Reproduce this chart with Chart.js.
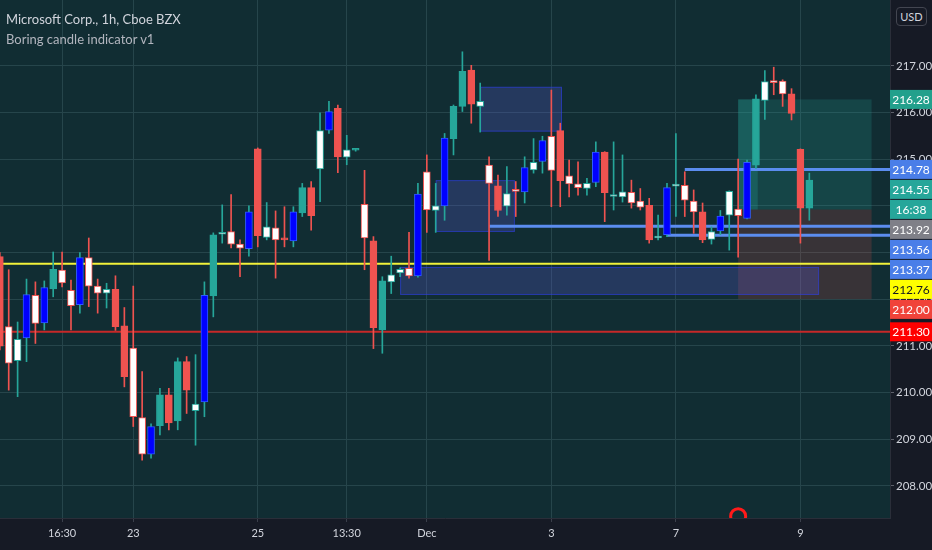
<!DOCTYPE html>
<html>
<head>
<meta charset="utf-8">
<script src="https://cdn.jsdelivr.net/npm/chart.js@4.4.0/dist/chart.umd.min.js"></script>
<style>
    html, body { margin: 0; padding: 0; background: #161a25; }
    #wrap { position: relative; width: 932px; height: 550px; overflow: hidden; }
    #legend { position: absolute; left: 6px; top: 9px; font-family: "Liberation Sans Narrow", Lato, sans-serif; pointer-events: none; }
    #legend .l1 { color: #d1d4dc; font-size: 13px; line-height: 20px; }
    #legend .l2 { color: #b2b5be; font-size: 13px; line-height: 20px; }
    #usd { position: absolute; left: 896px; top: 7px; width: 31px; height: 19px; box-sizing: border-box;
           border: 1px solid #434651; border-radius: 4px; color: #d1d4dc; background: #161a25;
           font: 11px Lato, sans-serif; line-height: 17px; text-align: center; }
</style>
</head>
<body>
<div id="wrap">
    <canvas id="chart" width="932" height="550"></canvas>
    <div id="legend">
        <div class="l1">Microsoft Corp., 1h, Cboe BZX</div>
        <div class="l2">Boring candle indicator v1</div>
    </div>
    <div id="usd">USD</div>
</div>
<script>
// hourly candles (index = bar number from the left edge)
const opens = [
    212.91, 211.41, 210.68, 211.17, 212.08, 211.49, 212.22, 212.62, 212.19, 211.88,
    212.89, 212.28, 212.13, 212.21, 211.43, 210.95, 209.46, 208.68, 209.29, 209.95,
    209.39, 210.66, 209.61, 209.80, 212.07, 213.39, 213.45, 213.18, 213.08, 215.22,
    213.32, 213.53, 213.30, 213.25, 213.85, 214.39, 214.79, 215.62, 216.09, 215.04,
    215.19, 214.03, 213.25, 211.34, 212.37, 212.56, 212.66, 212.50, 214.73, 213.90,
    214.00, 215.44, 216.13, 216.91, 216.13, 214.87, 214.43, 213.99, 214.32, 214.30,
    214.77, 214.95, 215.49, 215.61, 214.64, 214.47, 214.37, 214.50, 215.15, 214.20,
    214.19, 214.29, 214.10, 214.01, 213.31, 213.38, 214.42, 214.44, 214.10, 213.87,
    213.28, 213.46, 213.80, 213.93, 213.73, 214.87, 216.26, 216.68, 216.67, 216.40,
    215.21, 213.95
];
const highs = [
    213.00, 212.63, 211.51, 212.43, 212.37, 212.39, 213.01, 213.01, 212.41, 213.00,
    213.31, 212.43, 212.34, 212.50, 211.82, 212.28, 210.45, 209.33, 210.09, 210.09,
    210.74, 210.77, 210.81, 212.37, 213.42, 214.02, 214.24, 213.27, 214.00, 215.24,
    214.07, 213.89, 213.98, 213.98, 214.48, 214.52, 215.99, 216.24, 216.16, 215.51,
    215.22, 214.76, 213.34, 212.48, 212.92, 212.67, 213.43, 214.48, 215.09, 214.48,
    215.55, 216.16, 217.30, 217.01, 216.63, 215.05, 214.66, 214.84, 214.52, 215.05,
    215.44, 215.49, 216.48, 215.77, 214.98, 214.94, 214.59, 215.37, 215.16, 215.37,
    215.09, 214.55, 214.37, 214.16, 213.80, 214.48, 215.55, 214.73, 214.34, 214.06,
    213.55, 213.90, 214.32, 215.00, 214.98, 216.38, 216.90, 216.97, 216.70, 216.51,
    215.22, 214.70
];
const lows = [
    210.91, 210.05, 209.91, 210.66, 211.05, 211.34, 212.05, 212.26, 211.34, 211.70,
    211.84, 211.70, 211.81, 211.33, 210.12, 209.27, 208.55, 208.59, 209.09, 209.20,
    209.20, 209.55, 208.87, 209.48, 211.62, 213.20, 213.10, 212.48, 212.92, 213.12,
    213.27, 212.45, 213.12, 213.12, 213.77, 213.48, 214.09, 215.55, 214.71, 214.88,
    215.17, 212.63, 210.94, 210.84, 212.12, 212.48, 212.45, 212.47, 213.43, 213.43,
    213.69, 215.09, 216.02, 215.77, 215.58, 212.83, 213.77, 213.80, 213.77, 214.06,
    214.70, 214.70, 213.98, 213.98, 214.19, 214.23, 214.23, 214.41, 213.66, 213.91,
    214.08, 213.95, 213.91, 213.20, 213.27, 213.34, 213.77, 213.77, 213.41, 213.21,
    213.18, 213.38, 213.05, 212.90, 213.72, 214.80, 215.85, 216.38, 216.13, 215.84,
    213.20, 213.69
];
const closes = [
    210.99, 210.63, 211.14, 212.10, 211.48, 212.25, 212.64, 212.35, 211.86, 212.89,
    212.28, 212.13, 212.21, 211.41, 210.34, 209.48, 208.68, 209.27, 209.95, 209.35,
    210.66, 210.05, 209.75, 212.08, 213.38, 213.41, 213.18, 213.09, 213.87, 213.36,
    213.55, 213.27, 213.27, 213.87, 214.39, 213.79, 215.61, 216.02, 215.05, 215.20,
    215.21, 213.31, 211.39, 212.39, 212.52, 212.64, 212.50, 214.25, 213.91, 214.00,
    215.45, 216.13, 216.88, 216.18, 216.24, 214.48, 213.90, 214.26, 214.31, 214.82,
    214.93, 215.40, 214.76, 214.54, 214.47, 214.39, 214.48, 215.15, 214.28, 214.21,
    214.30, 214.06, 213.97, 213.27, 213.33, 214.39, 214.43, 214.12, 213.87, 213.27,
    213.45, 213.78, 214.31, 213.79, 214.93, 216.29, 216.66, 216.64, 216.40, 215.98,
    213.95, 214.55
];
// candle colouring by the indicator: t = plain up, r = plain down, w = boring, b = explosive
const kinds = [
    'r','w','w','b','w','b','t','w','w','b',
    'w','w','w','r','r','w','w','b','t','r',
    't','r','w','b','t','w','w','w','b','r',
    'w','w','r','b','t','r','w','b','r','w',
    't','w','r','t','w','w','w','b','w','w',
    'b','t','t','r','w','w','r','w','w','b',
    'w','b','w','r','w','w','w','b','r','w',
    'w','w','w','r','w','b','w','w','w','r',
    'w','b','w','w','b','t','w','w','w','r',
    'r','t'
];

// time axis
const xTickIdx = [7, 15, 29, 39, 48, 62, 76, 90];
const xTickLabels = ['16:30', '23', '25', '13:30', 'Dec', '3', '7', '9'];
const yTicks = [208, 209, 210, 211, 212, 213, 214, 215, 216, 217];

// horizontal levels (value, first bar)
const levelValues = [212.76, 211.30, 214.78, 213.56, 213.37];
const levelStart = [0, 0, 77, 55, 75];
const levelColors = ['#f2f23a', '#c62828', '#5b8def', '#5b8def', '#5b8def'];
const levelWidths = [2, 2, 3, 3, 3];

// boring-candle zones
const boxStart = [54, 49, 45];
const boxEnd = [63.2, 57.9, 92.1];
const boxTop = [216.55, 214.55, 212.69];
const boxBottom = [215.59, 213.44, 212.09];

// long position tool
const posStart = 83, posEnd = 98, posHit = 85.2;
const posEntry = 213.92, posTarget = 216.28, posStop = 212.00;

// event marker at the bottom
const markerIdx = 83, markerPrice = 207.35;

// price tags on the right scale, top to bottom
const tagValues = [216.28, 214.78, 214.55, 213.92, 213.56, 213.37, 212.76, 212.00, 211.30];
const tagBg = ['#22a08c', '#4a7ee8', '#26a69a', '#7f8088', '#4a7ee8', '#4a7ee8', '#ffff00', '#f0433a', '#ff0000'];
const tagFg = ['#fff', '#fff', '#fff', '#fff', '#fff', '#fff', '#131722', '#fff', '#fff'];
const tagExtra = ['', '', '16:38', '', '', '', '', '', ''];

const UP = '#26a69a', DOWN = '#ef5350';
const PLOT_BG = '#112d33', AXIS_BG = '#161a25', GRID = '#26454b', TEXT = '#d1d4dc';

const idx = opens.map((_, i) => i);
const dirColor = idx.map(i => closes[i] >= opens[i] ? UP : DOWN);
const bodyFill = idx.map(i => ({ t: UP, r: DOWN, w: '#ffffff', b: '#0000ff' })[kinds[i]]);
const bodyEdge = idx.map(i => kinds[i] === 'b' ? '#2f5bff' : dirColor[i]);

const backgroundPlugin = {
    id: 'bg',
    beforeDraw(chart) {
        const { ctx, chartArea: a } = chart;
        ctx.save();
        ctx.fillStyle = AXIS_BG;
        ctx.fillRect(0, 0, chart.width, chart.height);
        ctx.fillStyle = PLOT_BG;
        ctx.fillRect(a.left, a.top, a.width, a.height);
        ctx.restore();
    }
};

const zonesPlugin = {
    id: 'zones',
    beforeDatasetsDraw(chart) {
        const { ctx, chartArea: a, scales: { x, y } } = chart;
        ctx.save();
        ctx.beginPath();
        ctx.rect(a.left, a.top, a.width, a.height);
        ctx.clip();

        // long position: profit / loss areas
        const x0 = x.getPixelForValue(posStart), x1 = x.getPixelForValue(posEnd);
        const xh = x.getPixelForValue(posHit);
        const yE = y.getPixelForValue(posEntry), yT = y.getPixelForValue(posTarget), yS = y.getPixelForValue(posStop);
        ctx.fillStyle = 'rgba(38,166,154,0.2)';
        ctx.fillRect(x0, yT, x1 - x0, yE - yT);
        ctx.fillStyle = 'rgba(38,166,154,0.25)';
        ctx.fillRect(x0, yT, xh - x0, yE - yT);
        ctx.fillStyle = 'rgba(239,83,80,0.18)';
        ctx.fillRect(x0, yE, x1 - x0, yS - yE);

        // boring zones
        boxStart.forEach((s, k) => {
            const bx0 = x.getPixelForValue(s), bx1 = x.getPixelForValue(boxEnd[k]);
            const by0 = y.getPixelForValue(boxTop[k]), by1 = y.getPixelForValue(boxBottom[k]);
            ctx.fillStyle = 'rgba(90,90,210,0.28)';
            ctx.fillRect(bx0, by0, bx1 - bx0, by1 - by0);
            ctx.strokeStyle = 'rgba(40,60,240,0.55)';
            ctx.lineWidth = 1;
            ctx.strokeRect(bx0 + 0.5, by0 + 0.5, bx1 - bx0 - 1, by1 - by0 - 1);
        });
        ctx.restore();
    }
};

const tagsPlugin = {
    id: 'tags',
    afterDraw(chart) {
        const { ctx, chartArea: a, scales: { y } } = chart;
        const H = 20;
        ctx.save();
        ctx.font = '12px Lato, sans-serif';
        ctx.textAlign = 'center';
        ctx.textBaseline = 'middle';
        let prevBottom = -Infinity;
        tagValues.forEach((v, k) => {
            let top = y.getPixelForValue(v) - H / 2;
            if (top < prevBottom) top = prevBottom;
            const rows = tagExtra[k] ? [v.toFixed(2), tagExtra[k]] : [v.toFixed(2)];
            rows.forEach((txt, r) => {
                const ty = top + r * H;
                ctx.fillStyle = tagBg[k];
                ctx.fillRect(a.right, ty + 0.5, chart.width - a.right, H - 1);
                ctx.fillStyle = tagFg[k];
                ctx.fillText(txt, a.right + 21, ty + H / 2 + 0.5);
            });
            prevBottom = top + rows.length * H;
        });
        ctx.restore();
    }
};

new Chart(document.getElementById('chart'), {
    type: 'bar',
    data: {
        datasets: [
            {
                type: 'line',
                data: [{ x: markerIdx, y: markerPrice }],
                showLine: false,
                pointRadius: 7.5,
                pointBorderWidth: 3,
                pointBorderColor: '#ff1a1a',
                pointBackgroundColor: 'rgba(0,0,0,0)',
                clip: 0,
                order: -1
            },
            {
                data: idx.map(i => ({ x: i, y: [opens[i], closes[i]] })),
                backgroundColor: bodyFill,
                borderColor: bodyEdge,
                borderWidth: 1,
                borderSkipped: false,
                barThickness: 7,
                minBarLength: 2,
                grouped: false,
                order: 0
            },
            {
                data: idx.map(i => ({ x: i, y: [lows[i], highs[i]] })),
                backgroundColor: dirColor,
                barThickness: 1,
                grouped: false,
                order: 1
            },
            ...levelValues.map((v, k) => ({
                type: 'line',
                data: [{ x: levelStart[k], y: v }, { x: 101, y: v }],
                borderColor: levelColors[k],
                borderWidth: levelWidths[k],
                pointRadius: 0,
                order: 2
            }))
        ]
    },
    options: {
        responsive: false,
        animation: false,
        layout: { padding: 0, autoPadding: false },
        plugins: { legend: { display: false }, tooltip: { enabled: false } },
        scales: {
            x: {
                type: 'linear',
                min: 0.02,
                max: 100.07,
                offset: false,
                grid: { color: GRID, tickLength: 4, tickColor: '#3a3f4b', offset: false },
                border: { color: '#2a2e39' },
                afterBuildTicks: s => { s.ticks = xTickIdx.map(v => ({ value: v })); },
                afterFit: s => { s.height = 32; s.paddingLeft = 0; s.paddingRight = 0; },
                ticks: {
                    color: TEXT,
                    font: { family: 'Lato', size: 11 },
                    padding: 5,
                    maxRotation: 0,
                    autoSkip: false,
                    callback: (v, i) => xTickLabels[i]
                }
            },
            y: {
                type: 'linear',
                position: 'right',
                min: 207.31,
                max: 218.41,
                grid: { color: GRID, tickLength: 4, tickColor: '#5d606b' },
                border: { color: '#2a2e39' },
                afterBuildTicks: s => { s.ticks = yTicks.map(v => ({ value: v })); },
                afterFit: s => { s.width = 42; s.paddingTop = 0; s.paddingBottom = 0; },
                ticks: {
                    color: TEXT,
                    font: { family: 'Lato', size: 11.5 },
                    padding: 2,
                    callback: v => v.toFixed(2)
                }
            }
        }
    },
    plugins: [backgroundPlugin, zonesPlugin, tagsPlugin]
});
</script>
</body>
</html>
